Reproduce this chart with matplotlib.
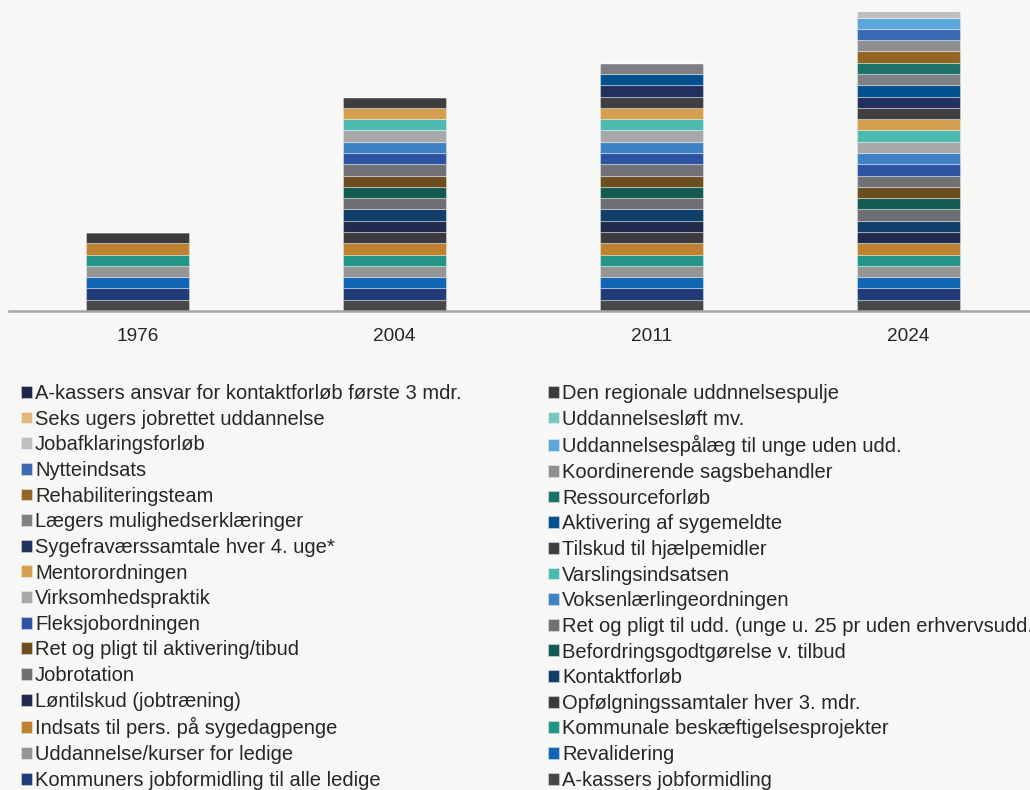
import numpy as np
import matplotlib
matplotlib.use("Agg")
import matplotlib.pyplot as plt

plt.rcParams['font.family'] = ['Liberation Sans', 'DejaVu Sans']

years = ["1976", "2004", "2011", "2024"]

# instruments, bottom of the stack first
instruments = [
    "A-kassers jobformidling",
    "Kommuners jobformidling til alle ledige",
    "Revalidering",
    "Uddannelse/kurser for ledige",
    "Kommunale beskæftigelsesprojekter",
    "Indsats til pers. på sygedagpenge",
    "Opfølgningssamtaler hver 3. mdr.",
    "Løntilskud (jobtræning)",
    "Kontaktforløb",
    "Jobrotation",
    "Befordringsgodtgørelse v. tilbud",
    "Ret og pligt til aktivering/tibud",
    "Ret og pligt til udd. (unge u. 25 pr uden erhvervsudd.",
    "Fleksjobordningen",
    "Voksenlærlingeordningen",
    "Virksomhedspraktik",
    "Varslingsindsatsen",
    "Mentorordningen",
    "Tilskud til hjælpemidler",
    "Sygefraværssamtale hver 4. uge*",
    "Aktivering af sygemeldte",
    "Lægers mulighedserklæringer",
    "Ressourceforløb",
    "Rehabiliteringsteam",
    "Koordinerende sagsbehandler",
    "Nytteindsats",
    "Uddannelsespålæg til unge uden udd.",
    "Jobafklaringsforløb",
    "Uddannelsesløft mv.",
    "Seks ugers jobrettet uddannelse",
    "Den regionale uddnnelsespulje",
    "A-kassers ansvar for kontaktforløb første 3 mdr.",
]

# 1 = instrument in use that year
in_use_1976 = [1] * 7 + [0] * 25
in_use_2004 = [1] * 19 + [0] * 13
in_use_2011 = [1] * 22 + [0] * 10
in_use_2024 = [1] * 6 + [0] + [1] * 25

colors = [
    "#474749", "#213a78", "#1166b4", "#959595", "#219485", "#bd8130",
    "#3c3c3e", "#1f2a4d", "#0f3e68", "#6e6f73", "#145a50", "#6c4d1f",
    "#707175", "#2c53a2", "#3e82c5", "#a6a8aa", "#4dbab0", "#d49f4f",
    "#3f3f41", "#22305e", "#03508f", "#7e8084", "#1b7167", "#926524",
    "#8f8f91", "#3b6ab2", "#5aa7dd", "#bfbfc0", "#76c7c1", "#e3b877",
    "#3a3a3c", "#1e2548",
]

data = np.array([in_use_1976, in_use_2004, in_use_2011, in_use_2024]).T

bg = "#f7f7f5"
fig = plt.figure(figsize=(10.3, 7.9), dpi=100, facecolor=bg)
ax = fig.add_axes([9 / 1030, 1 - 311 / 790, 1028 / 1030, 299 / 790])
ax.set_facecolor(bg)

x = np.arange(len(years))
bottom = np.zeros(len(years))
handles = []
for name, vals, col in zip(instruments, data, colors):
    h = ax.bar(x, vals, 0.4, bottom=bottom, color=col,
               edgecolor=(1, 1, 1, 0.35), linewidth=0.8, label=name)
    handles.append(h)
    bottom += vals

ax.set_xlim(-0.5, 3.5)
ax.set_ylim(0, 26.5)
ax.set_xticks(x)
ax.set_xticklabels(years, fontsize=13.7, color="#262626")
ax.tick_params(axis="x", length=0, pad=12)
ax.set_yticks([])
for s in ["top", "right", "left"]:
    ax.spines[s].set_visible(False)
ax.spines["bottom"].set_color("#a6a6a6")
ax.spines["bottom"].set_linewidth(1.8)

# legend: two columns, reading top-down
left_idx = list(range(31, 0, -2))
right_idx = list(range(30, -1, -2))
legend_kw = dict(frameon=False, fontsize=14.5, handlelength=0.53, handleheight=0.53,
                 handletextpad=0.17, labelspacing=0.33, borderpad=0, borderaxespad=0,
                 labelcolor="#262626", loc="upper left")
leg1 = fig.legend([handles[i] for i in left_idx], [instruments[i] for i in left_idx],
                  bbox_to_anchor=(21 / 1030, 1 - 384 / 790), **legend_kw)
leg2 = fig.legend([handles[i] for i in right_idx], [instruments[i] for i in right_idx],
                  bbox_to_anchor=(548 / 1030, 1 - 384 / 790), **legend_kw)

fig.savefig("out.png", dpi=100, facecolor=bg)
